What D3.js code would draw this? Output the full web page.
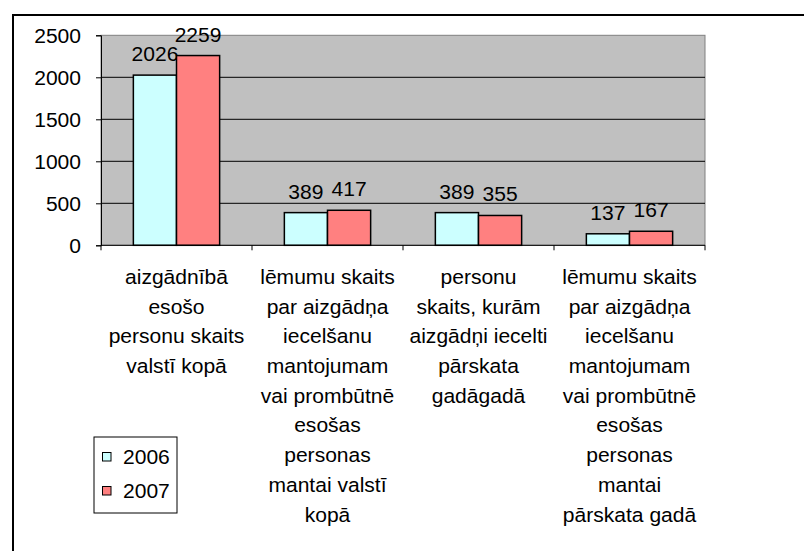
<!DOCTYPE html>
<html>
<head>
<meta charset="utf-8">
<script src="https://cdn.jsdelivr.net/npm/d3@7"></script>
<style>
  body { margin: 0; background: #fff; }
  text { font-family: "Liberation Sans", Arial, sans-serif; fill: #000; }
</style>
</head>
<body>
<div id="main"></div>
<script>
// chart values
const categories = [
  ['aizgādnībā', 'esošo', 'personu skaits', 'valstī kopā'],
  ['lēmumu skaits', 'par aizgādņa', 'iecelšanu', 'mantojumam', 'vai prombūtnē', 'esošas', 'personas', 'mantai valstī', 'kopā'],
  ['personu', 'skaits, kurām', 'aizgādņi iecelti', 'pārskata', 'gadāgadā'],
  ['lēmumu skaits', 'par aizgādņa', 'iecelšanu', 'mantojumam', 'vai prombūtnē', 'esošas', 'personas', 'mantai', 'pārskata gadā']
];
const seriesNames = ['2006', '2007'];
const values2006 = [2026, 389, 389, 137];
const values2007 = [2259, 417, 355, 167];
const yTicks = [0, 500, 1000, 1500, 2000, 2500];
const colors = ['#CCFFFF', '#FF8080'];

const W = 804, H = 551;
const plot = { left: 101, right: 705, top: 35.3, bottom: 245.3 };
const fontSize = 19.5;
const stretch = 1.08;   // the original text is a bit wider than Arial

const svg = d3.select('#main').append('svg')
  .attr('width', W)
  .attr('height', H);

// outer chart frame (runs off the right and bottom edges)
svg.append('rect')
  .attr('x', 13).attr('y', 15)
  .attr('width', 900).attr('height', 700)
  .attr('fill', 'none')
  .attr('stroke', '#000')
  .attr('stroke-width', 2);

const catIdx = categories.map((d, i) => i);

const x = d3.scaleBand()
  .domain(catIdx)
  .range([plot.left, plot.right])
  .padding(0);

const xs = d3.scaleBand()
  .domain(seriesNames)
  .range([0, x.bandwidth()])
  .paddingInner(0)
  .paddingOuter(0.75);

const y = d3.scaleLinear()
  .domain([0, 2500])
  .range([plot.bottom, plot.top]);

// plot area
svg.append('rect')
  .attr('x', plot.left).attr('y', plot.top)
  .attr('width', plot.right - plot.left)
  .attr('height', plot.bottom - plot.top)
  .attr('fill', '#C0C0C0')
  .attr('stroke', '#808080')
  .attr('stroke-width', 1);

// gridlines
svg.append('g')
  .selectAll('line')
  .data(yTicks.filter(t => t > 0 && t < 2500))
  .enter().append('line')
  .attr('x1', plot.left).attr('x2', plot.right)
  .attr('y1', d => y(d)).attr('y2', d => y(d))
  .attr('stroke', '#000')
  .attr('stroke-width', 1);

// y axis
const yAxis = svg.append('g')
  .attr('transform', 'translate(' + plot.left + ',0)')
  .call(d3.axisLeft(y).tickValues(yTicks).tickFormat(d3.format('d')).tickSize(5).tickPadding(15));
yAxis.select('.domain').attr('stroke', '#000');
yAxis.selectAll('.tick line').attr('stroke', '#000');
yAxis.selectAll('.tick text')
  .attr('font-size', fontSize)
  .attr('font-family', '"Liberation Sans", Arial, sans-serif')
  .attr('fill', '#000')
  .attr('dy', '0.36em')
  .attr('transform', function() {
    const xx = +d3.select(this).attr('x');
    return 'translate(' + xx + ',0) scale(' + stretch + ',1) translate(' + (-xx) + ',0)';
  });

// bars
const series = [values2006, values2007];
const bars = svg.append('g');
series.forEach((vals, s) => {
  bars.selectAll('.bar' + s)
    .data(vals)
    .enter().append('rect')
    .attr('class', 'bar' + s)
    .attr('x', (d, i) => x(i) + xs(seriesNames[s]))
    .attr('width', xs.bandwidth())
    .attr('y', d => y(d))
    .attr('height', d => plot.bottom - y(d))
    .attr('fill', colors[s])
    .attr('stroke', '#000')
    .attr('stroke-width', 1.5);

  bars.selectAll('.lab' + s)
    .data(vals)
    .enter().append('text')
    .attr('class', 'lab' + s)
    .attr('text-anchor', 'middle')
    .attr('font-size', fontSize)
    .attr('transform', (d, i) => {
      const cx = x(i) + xs(seriesNames[s]) + xs.bandwidth() / 2;
      return 'translate(' + cx + ',' + (y(d) - 14) + ') scale(' + stretch + ',1)';
    })
    .text(d => d);
});

// x axis line + ticks at category boundaries
svg.append('line')
  .attr('x1', plot.left).attr('x2', plot.right)
  .attr('y1', plot.bottom).attr('y2', plot.bottom)
  .attr('stroke', '#000');
svg.append('g')
  .selectAll('line')
  .data(catIdx.concat([categories.length]))
  .enter().append('line')
  .attr('x1', d => d < categories.length ? x(d) : plot.right)
  .attr('x2', d => d < categories.length ? x(d) : plot.right)
  .attr('y1', plot.bottom).attr('y2', plot.bottom + 5)
  .attr('stroke', '#000');

// category labels
const lineH = 29.7;
const catG = svg.append('g')
  .selectAll('g')
  .data(categories)
  .enter().append('g')
  .attr('transform', (d, i) => 'translate(' + (x(i) + x.bandwidth() / 2) + ',284) scale(' + stretch + ',1)');
catG.selectAll('text')
  .data(d => d)
  .enter().append('text')
  .attr('text-anchor', 'middle')
  .attr('font-size', fontSize)
  .attr('y', (d, j) => j * lineH)
  .text(d => d);

// legend
const legend = svg.append('g');
legend.append('rect')
  .attr('x', 94).attr('y', 437)
  .attr('width', 83).attr('height', 76)
  .attr('fill', '#fff')
  .attr('stroke', '#000')
  .attr('stroke-width', 1);
seriesNames.forEach((name, s) => {
  const ly = 463.5 + s * 34;
  legend.append('rect')
    .attr('x', 102.5).attr('y', ly - 11)
    .attr('width', 8.5).attr('height', 8.5)
    .attr('fill', colors[s])
    .attr('stroke', '#000')
    .attr('stroke-width', 1);
  legend.append('text')
    .attr('font-size', fontSize)
    .attr('transform', 'translate(123,' + ly + ') scale(' + stretch + ',1)')
    .text(name);
});
</script>
</body>
</html>
